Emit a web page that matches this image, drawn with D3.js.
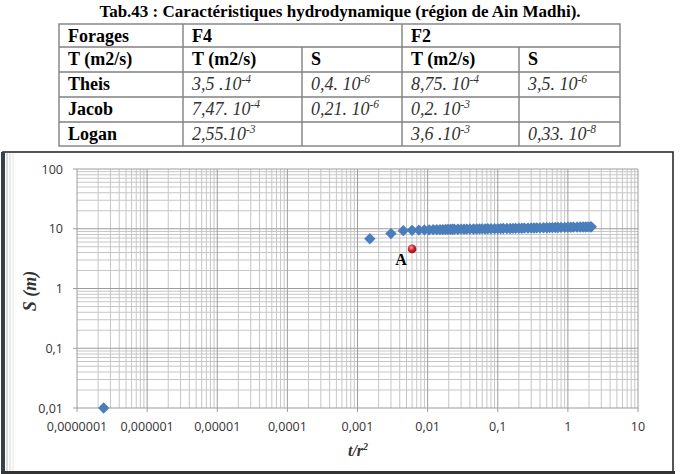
<!DOCTYPE html>
<html>
<head>
<meta charset="utf-8">
<script src="https://cdn.jsdelivr.net/npm/d3@7"></script>
<style>
  body { margin: 0; background: #fff; }
  svg { display: block; }
</style>
</head>
<body>
<div id="page"></div>
<script>
// ---- table data ----
var tableTitle = "Tab.43 : Caractéristiques hydrodynamique (région de Ain Madhi).";
var headRow1 = ["Forages", "F4", "F2"];
var headRow2 = ["T (m2/s)", "T (m2/s)", "S", "T (m2/s)", "S"];
var methods = ["Theis", "Jacob", "Logan"];
// each value = [mantissa, exponent] ; null = empty cell
var f4T = [["3,5 .10", "-4"], ["7,47. 10", "-4"], ["2,55.10", "-3"]];
var f4S = [["0,4. 10", "-6"], ["0,21. 10", "-6"], null];
var f2T = [["8,75. 10", "-4"], ["0,2. 10", "-3"], ["3,6 .10", "-3"]];
var f2S = [["3,5. 10", "-6"], null, ["0,33. 10", "-8"]];

// ---- chart data (t/r2 , s in m) ----
var tr2 = [0.00000024, 0.0015, 0.003, 0.0045, 0.006, 0.0075, 0.009, 0.0105, 0.012, 0.0135,
  0.015, 0.0165, 0.018, 0.0195, 0.021, 0.0225, 0.024, 0.027, 0.03, 0.033,
  0.036, 0.04, 0.045, 0.05, 0.055, 0.06, 0.066, 0.072, 0.08, 0.09,
  0.1, 0.11, 0.12, 0.135, 0.15, 0.165, 0.18, 0.2, 0.22, 0.24,
  0.27, 0.3, 0.33, 0.36, 0.4, 0.45, 0.5, 0.55, 0.6, 0.66,
  0.72, 0.8, 0.9, 1.0, 1.1, 1.2, 1.35, 1.5, 1.65, 1.8, 1.95, 2.1, 2.16];
var sm = [0.01, 6.8, 8.3, 9.3, 9.4, 9.5, 9.55, 9.6, 9.65, 9.65,
  9.7, 9.7, 9.75, 9.75, 9.75, 9.8, 9.8, 9.8, 9.85, 9.85,
  9.85, 9.9, 9.9, 9.9, 9.95, 9.95, 9.95, 10.0, 10.0, 10.0,
  10.05, 10.05, 10.1, 10.1, 10.1, 10.15, 10.15, 10.2, 10.2, 10.25,
  10.25, 10.3, 10.3, 10.35, 10.35, 10.4, 10.4, 10.45, 10.45, 10.5,
  10.5, 10.55, 10.55, 10.6, 10.6, 10.65, 10.65, 10.7, 10.7, 10.7, 10.75, 10.75, 10.75];
var pointAX = [0.006];
var pointAY = [4.6];
var xTicks = [1e-7, 1e-6, 1e-5, 1e-4, 1e-3, 1e-2, 1e-1, 1, 10];
var xTickLabels = ["0,0000001", "0,000001", "0,00001", "0,0001", "0,001", "0,01", "0,1", "1", "10"];
var yTicks = [0.01, 0.1, 1, 10, 100];
var yTickLabels = ["0,01", "0,1", "1", "10", "100"];

var svg = d3.select("#page").append("svg")
  .attr("width", 682)
  .attr("height", 474);

// ===== table =====
var serif = "'Liberation Serif', 'Times New Roman', serif";
var colX = [59, 183, 302, 402, 519, 620];
var rowY = [24, 47, 72, 97, 122, 146];

svg.append("text")
  .attr("x", 340).attr("y", 17)
  .attr("text-anchor", "middle")
  .attr("font-family", serif)
  .attr("font-weight", "bold")
  .attr("font-size", 17)
  .text(tableTitle);

var table = svg.append("g");

function cellText(col, row, txt, italic) {
  if (txt == null) return;
  var t = table.append("text")
    .attr("x", colX[col] + 9)
    .attr("y", rowY[row] + 17.5)
    .attr("font-family", serif)
    .attr("font-size", 18)
    .attr("fill", italic ? "#333" : "#000")
    .attr("font-weight", italic ? "normal" : "bold")
    .attr("font-style", italic ? "italic" : "normal");
  if (Array.isArray(txt)) {
    t.append("tspan").text(txt[0]);
    t.append("tspan").attr("font-size", 11.5).attr("dy", -7).text(txt[1]);
  } else {
    t.text(txt);
  }
}

// grid of the table
table.append("rect")
  .attr("x", colX[0]).attr("y", rowY[0])
  .attr("width", colX[5] - colX[0]).attr("height", rowY[5] - rowY[0])
  .attr("fill", "#fff").attr("stroke", "#808080").attr("stroke-width", 1.4);
rowY.slice(1, 5).forEach(function(y) {
  table.append("line").attr("x1", colX[0]).attr("x2", colX[5])
    .attr("y1", y).attr("y2", y).attr("stroke", "#808080").attr("stroke-width", 1.4);
});
colX.slice(1, 5).forEach(function(x, i) {
  // the S columns do not cut the first row (F4 / F2 span two columns)
  var y1 = (i === 1 || i === 3) ? rowY[1] : rowY[0];
  table.append("line").attr("x1", x).attr("x2", x)
    .attr("y1", y1).attr("y2", rowY[5]).attr("stroke", "#808080").attr("stroke-width", 1.4);
});

cellText(0, 0, headRow1[0]);
cellText(1, 0, headRow1[1]);
cellText(3, 0, headRow1[2]);
headRow2.forEach(function(h, i) { cellText(i, 1, h); });
methods.forEach(function(m, i) {
  cellText(0, i + 2, m);
  cellText(1, i + 2, f4T[i], true);
  cellText(2, i + 2, f4S[i], true);
  cellText(3, i + 2, f2T[i], true);
  cellText(4, i + 2, f2S[i], true);
});

// ===== chart frame =====
var frame = svg.append("g");
frame.append("rect")
  .attr("x", 3).attr("y", 152).attr("width", 670).attr("height", 320)
  .attr("fill", "#fff").attr("stroke", "#2b2b2b").attr("stroke-width", 1.6);
// shaded left edge
[[7, "#cfd3d8"], [10, "#e2e4e6"], [13, "#eeeeee"]].forEach(function(d) {
  frame.append("line").attr("x1", d[0]).attr("x2", d[0])
    .attr("y1", 153).attr("y2", 471).attr("stroke", d[1]).attr("stroke-width", 1.5);
});
frame.append("rect").attr("x", 1).attr("y", 152).attr("width", 4).attr("height", 322).attr("fill", "#3a4048");
frame.append("rect").attr("x", 1).attr("y", 471).attr("width", 674).attr("height", 3).attr("fill", "#333");

// ===== chart =====
var x = d3.scaleLog().domain([1e-7, 10]).range([77, 638]);
var y = d3.scaleLog().domain([0.01, 100]).range([408, 169]);

var grid = svg.append("g");
var xMinor = [], yMinor = [];
for (var e = -7; e < 1; e++) for (var k = 2; k <= 9; k++) xMinor.push(k * Math.pow(10, e));
for (var e2 = -2; e2 < 2; e2++) for (var k2 = 2; k2 <= 9; k2++) yMinor.push(k2 * Math.pow(10, e2));

grid.selectAll(".xm").data(xMinor).enter().append("line")
  .attr("x1", d => x(d)).attr("x2", d => x(d))
  .attr("y1", y(100)).attr("y2", y(0.01))
  .attr("stroke", "#c6c6c6").attr("stroke-width", 1);
grid.selectAll(".ym").data(yMinor).enter().append("line")
  .attr("x1", x(1e-7)).attr("x2", x(10))
  .attr("y1", d => y(d)).attr("y2", d => y(d))
  .attr("stroke", "#c6c6c6").attr("stroke-width", 1);
grid.selectAll(".xM").data(xTicks).enter().append("line")
  .attr("x1", d => x(d)).attr("x2", d => x(d))
  .attr("y1", y(100)).attr("y2", y(0.01) + 4)
  .attr("stroke", "#9c9c9c").attr("stroke-width", 1);
grid.selectAll(".yM").data(yTicks).enter().append("line")
  .attr("x1", x(1e-7) - 4).attr("x2", x(10))
  .attr("y1", d => y(d)).attr("y2", d => y(d))
  .attr("stroke", "#9c9c9c").attr("stroke-width", 1);

var sans = "'Open Sans', 'Liberation Sans', sans-serif";
svg.append("g").selectAll("text").data(xTicks).enter().append("text")
  .attr("x", d => x(d)).attr("y", 431)
  .attr("text-anchor", "middle")
  .attr("font-family", sans).attr("font-size", 12.5).attr("fill", "#333")
  .text((d, i) => xTickLabels[i]);
svg.append("g").selectAll("text").data(yTicks).enter().append("text")
  .attr("x", 63).attr("y", d => y(d) + 4.5)
  .attr("text-anchor", "end")
  .attr("font-family", sans).attr("font-size", 12.5).attr("fill", "#333")
  .text((d, i) => yTickLabels[i]);

// axis titles
svg.append("text")
  .attr("transform", "translate(36,291) rotate(-90)")
  .attr("text-anchor", "middle")
  .attr("font-family", serif).attr("font-weight", "bold").attr("font-style", "italic")
  .attr("font-size", 18).attr("fill", "#333")
  .text("S (m)");
var xt = svg.append("text")
  .attr("x", 358).attr("y", 456)
  .attr("text-anchor", "middle")
  .attr("font-family", serif).attr("font-weight", "bold").attr("font-style", "italic")
  .attr("font-size", 16).attr("fill", "#333");
xt.append("tspan").text("t/r");
xt.append("tspan").attr("font-size", 10).attr("dy", -6).text("2");

// data points
var pts = tr2.map(function(v, i) { return {x: v, y: sm[i]}; });
svg.append("g").selectAll("path").data(pts).enter().append("path")
  .attr("d", d3.symbol().type(d3.symbolSquare).size(64))
  .attr("transform", d => `translate(${x(d.x)},${y(d.y)}) rotate(45)`)
  .attr("fill", "#4a7ebb");

// point A
var defs = svg.append("defs");
var rg = defs.append("radialGradient").attr("id", "redball")
  .attr("cx", "40%").attr("cy", "35%").attr("r", "65%");
rg.append("stop").attr("offset", "0%").attr("stop-color", "#f4a0a0");
rg.append("stop").attr("offset", "55%").attr("stop-color", "#d2232a");
rg.append("stop").attr("offset", "100%").attr("stop-color", "#8e1116");
svg.append("g").selectAll("circle").data(pointAX).enter().append("circle")
  .attr("cx", d => x(d)).attr("cy", (d, i) => y(pointAY[i]))
  .attr("r", 4.3)
  .attr("fill", "url(#redball)");
svg.append("text")
  .attr("x", x(pointAX[0]) - 11).attr("y", y(pointAY[0]) + 16)
  .attr("text-anchor", "middle")
  .attr("font-family", serif).attr("font-weight", "bold")
  .attr("font-size", 16)
  .text("A");
</script>
</body>
</html>
